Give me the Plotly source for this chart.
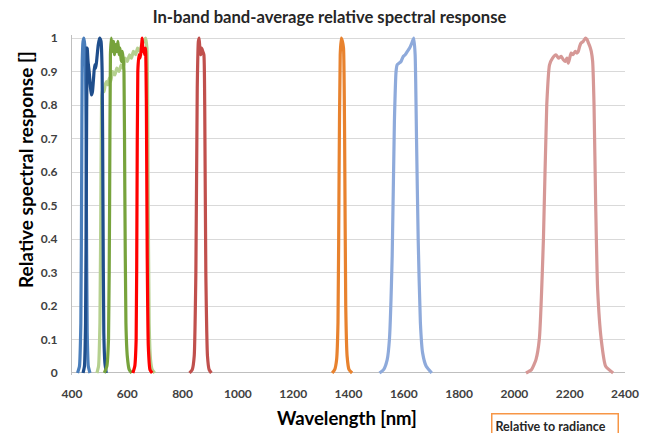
import plotly.graph_objects as go

# ---- data ----
band_names = ["Pan", "Coastal", "Blue", "Green", "Red", "NIR", "Cirrus", "SWIR1", "SWIR2"]

pan_wl = [490, 496, 501, 505, 508, 512, 516, 520, 525, 530, 535, 540, 547, 555, 562, 570, 578, 585, 592,
          600, 608, 615, 622, 630, 637, 645, 652, 660, 666, 671, 675, 679, 684, 690, 699]
pan_val = [0, 0.02, 0.15, 0.6, 0.83, 0.85, 0.84, 0.86, 0.87, 0.86, 0.88, 0.87, 0.9, 0.89, 0.91, 0.9, 0.92,
           0.91, 0.94, 0.93, 0.95, 0.94, 0.96, 0.95, 0.97, 0.96, 0.98, 0.99, 1.0, 0.97, 0.6, 0.15, 0.04, 0.01, 0]

coastal_wl = [420, 427, 432, 435, 437, 440, 443, 446, 449, 452, 455, 459, 465]
coastal_val = [0, 0.02, 0.15, 0.6, 0.93, 0.99, 1.0, 0.98, 0.9, 0.5, 0.12, 0.02, 0]

blue_wl = [440, 445, 449, 452, 455, 458, 462, 466, 470, 474, 478, 482, 486, 490, 495, 500, 505, 509,
           512, 515, 519, 524]
blue_val = [0, 0.02, 0.15, 0.6, 0.97, 0.93, 0.9, 0.86, 0.83, 0.84, 0.88, 0.92, 0.91, 0.94, 0.98, 1.0,
            0.99, 0.9, 0.5, 0.12, 0.03, 0]

green_wl = [517, 526, 532, 536, 539, 542, 546, 550, 554, 558, 562, 566, 570, 574, 578, 582, 585, 588,
            591, 595, 600, 607, 616]
green_val = [0, 0.02, 0.1, 0.5, 0.95, 1.0, 0.96, 0.99, 0.95, 0.98, 0.96, 0.99, 0.95, 0.97, 0.93, 0.96,
             0.94, 0.9, 0.55, 0.15, 0.05, 0.01, 0]

red_wl = [620, 627, 632, 635, 638, 642, 646, 650, 654, 657, 660, 663, 666, 669, 672, 676, 682, 690]
red_val = [0, 0.02, 0.1, 0.5, 0.9, 0.95, 0.94, 0.96, 1.0, 0.96, 0.97, 0.95, 0.97, 0.8, 0.35, 0.08, 0.01, 0]

nir_wl = [825, 835, 842, 848, 853, 857, 860, 863, 866, 869, 873, 877, 880, 884, 890, 896, 904]
nir_val = [0, 0.01, 0.05, 0.3, 0.85, 0.99, 1.0, 0.96, 0.95, 0.97, 0.96, 0.95, 0.8, 0.3, 0.05, 0.01, 0]

cirrus_wl = [1341, 1350, 1357, 1362, 1366, 1370, 1374, 1378, 1382, 1386, 1390, 1395, 1402, 1413]
cirrus_val = [0, 0.01, 0.04, 0.15, 0.6, 0.95, 1.0, 0.99, 0.97, 0.7, 0.2, 0.05, 0.01, 0]

swir1_wl = [1512, 1527, 1540, 1548, 1558, 1566, 1572, 1576, 1583, 1590, 1598, 1605, 1613, 1621, 1629,
            1636, 1641, 1646, 1652, 1660, 1668, 1681, 1701]
swir1_val = [0, 0.01, 0.04, 0.1, 0.35, 0.75, 0.9, 0.92, 0.925, 0.93, 0.945, 0.95, 0.96, 0.97, 0.985,
             1.0, 0.95, 0.7, 0.4, 0.15, 0.06, 0.02, 0]

swir2_wl = [2042, 2062, 2078, 2090, 2105, 2117, 2127, 2138, 2150, 2160, 2169, 2177, 2184, 2190, 2195,
            2200, 2205, 2212, 2220, 2226, 2231, 2236, 2241, 2249, 2257, 2263, 2268, 2273, 2278, 2283,
            2288, 2294, 2301, 2314, 2330, 2357]
swir2_val = [0, 0.01, 0.04, 0.1, 0.4, 0.8, 0.92, 0.94, 0.95, 0.94, 0.945, 0.935, 0.93, 0.94, 0.925,
             0.94, 0.955, 0.95, 0.96, 0.955, 0.96, 0.975, 0.985, 0.99, 1.0, 0.995, 0.985, 0.975, 0.96,
             0.93, 0.8, 0.5, 0.25, 0.1, 0.02, 0]

band_colors = ["#b5d08f", "#4a7ebb", "#1f4e8c", "#77a33c", "#ff0000", "#c0504d", "#e8822e",
               "#8eaadb", "#d69896"]

x_ticks = [400, 600, 800, 1000, 1200, 1400, 1600, 1800, 2000, 2200, 2400]
y_ticks = [0, 0.1, 0.2, 0.3, 0.4, 0.5, 0.6, 0.7, 0.8, 0.9, 1]
y_tick_labels = ["0", "0.1", "0.2", "0.3", "0.4", "0.5", "0.6", "0.7", "0.8", "0.9", "1"]

series = [(pan_wl, pan_val), (coastal_wl, coastal_val), (blue_wl, blue_val), (green_wl, green_val),
          (red_wl, red_val), (nir_wl, nir_val), (cirrus_wl, cirrus_val), (swir1_wl, swir1_val),
          (swir2_wl, swir2_val)]

FONT = "Lato"
# the page body has an 8px margin, so the figure is 8px smaller and everything is shifted by 8px
W, H = 643, 425

fig = go.Figure()
for name, (wl, val), col in zip(band_names, series, band_colors):
    fig.add_trace(go.Scatter(x=wl, y=val, mode="lines", name=name,
                             line=dict(color=col, width=3.2, shape="spline", smoothing=0.5),
                             showlegend=False))

fig.update_layout(
    width=W, height=H,
    margin=dict(l=64, r=24, t=27, b=58),
    paper_bgcolor="white", plot_bgcolor="white",
    font=dict(family=FONT, color="#404040"),
    title=dict(text="<b>In-band band-average relative spectral response</b>",
               x=0.5, xanchor="center", y=1 - 9.5 / H, yanchor="middle",
               font=dict(family=FONT, size=16.6, color="#262626")),
    xaxis=dict(range=[400, 2400], tickvals=x_ticks, ticktext=[f"<b>{v}</b>" for v in x_ticks],
               showgrid=False, zeroline=False, showline=False,
               ticks="", ticklabelstandoff=10, tickfont=dict(size=12, color="#404040")),
    yaxis=dict(range=[-0.006, 1.009], tickvals=y_ticks, ticktext=[f"<b>{t}</b>" for t in y_tick_labels],
               showgrid=True, gridcolor="#d9d9d9", gridwidth=1,
               zeroline=True, zerolinecolor="#bfbfbf", zerolinewidth=1,
               showline=True, linecolor="#bfbfbf", linewidth=1,
               ticks="", ticklabelstandoff=11, tickfont=dict(size=12, color="#404040")),
    annotations=[
        dict(text="<b>Relative spectral response []</b>", xref="paper", yref="paper",
             x=-0.083, y=0.603, textangle=-90, showarrow=False, xanchor="center", yanchor="middle",
             font=dict(family=FONT, size=19, color="#000000")),
        dict(text="<b>Wavelength [nm]</b>", xref="paper", yref="paper",
             x=0.497, y=-0.126, showarrow=False, xanchor="center", yanchor="middle",
             font=dict(family=FONT, size=18.5, color="#000000")),
        dict(text="<b>Relative to radiance</b>", xref="paper", yref="paper",
             x=(493 - 72) / 555, y=(375 - 426) / 340, showarrow=False, xanchor="left", yanchor="middle",
             align="left", width=119, height=17, bordercolor="#f79646", borderwidth=1.5, borderpad=3,
             bgcolor="white", font=dict(family=FONT, size=12.5, color="#262626")),
    ],
)

fig.write_html("out.html")
